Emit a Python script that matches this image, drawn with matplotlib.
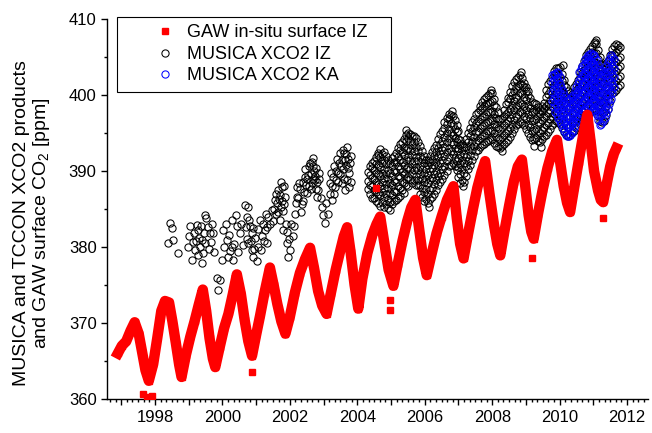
import matplotlib
matplotlib.use("Agg")
import matplotlib.pyplot as plt
from matplotlib.ticker import MultipleLocator, FuncFormatter

plt.rcParams['font.family'] = ['Liberation Sans', 'DejaVu Sans']
plt.rcParams['mathtext.fontset'] = 'custom'
plt.rcParams['mathtext.rm'] = 'Liberation Sans'
plt.rcParams['mathtext.default'] = 'regular'

# GAW in-situ surface IZ
gaw_year = [1996.90, 1997.02, 1997.15, 1997.28, 1997.40, 1997.52, 1997.62, 1997.72, 1997.82,
            1997.95, 1998.07, 1998.19, 1998.30, 1998.42, 1998.52, 1998.62, 1998.72, 1998.79,
            1998.92, 1999.05, 1999.18, 1999.30, 1999.42, 1999.52, 1999.62, 1999.72, 1999.79,
            1999.92, 2000.05, 2000.18, 2000.31, 2000.43, 2000.55, 2000.66, 2000.77, 2000.88,
            2001.00, 2001.12, 2001.25, 2001.41, 2001.52, 2001.63, 2001.75, 2001.87,
            2002.00, 2002.15, 2002.30, 2002.45, 2002.60, 2002.72, 2002.84, 2002.96, 2003.09,
            2003.22, 2003.36, 2003.50, 2003.60, 2003.70, 2003.80, 2003.92, 2004.03,
            2004.15, 2004.30, 2004.45, 2004.57, 2004.68, 2004.80, 2004.93, 2005.07,
            2005.20, 2005.34, 2005.48, 2005.60, 2005.72, 2005.84, 2005.95, 2006.06,
            2006.20, 2006.35, 2006.50, 2006.66, 2006.85, 2006.95, 2007.05, 2007.15,
            2007.28, 2007.42, 2007.56, 2007.68, 2007.79, 2007.92, 2008.05, 2008.15, 2008.24,
            2008.36, 2008.50, 2008.64, 2008.76, 2008.88, 2008.98, 2009.08, 2009.16, 2009.23,
            2009.36, 2009.50, 2009.64, 2009.78, 2009.92, 2010.02, 2010.12, 2010.22, 2010.31,
            2010.43, 2010.56, 2010.70, 2010.82, 2010.92, 2011.02, 2011.14, 2011.22, 2011.29,
            2011.40, 2011.50, 2011.60, 2011.68]
gaw_co2 = [366.0, 367.0, 367.6, 369.0, 370.1, 368.6, 366.2, 363.8, 362.4,
           364.6, 368.0, 371.6, 372.9, 372.7, 370.2, 367.4, 364.5, 362.9,
           365.8, 368.2, 370.3, 372.4, 374.4, 371.6, 368.0, 365.3, 364.2,
           366.8, 369.3, 371.2, 373.8, 376.4, 373.8, 370.4, 367.6, 365.7,
           368.4, 371.0, 374.0, 377.3, 375.0, 372.5, 370.2, 368.6,
           370.8, 374.0, 376.6, 378.4, 379.9, 377.2, 374.2, 372.3, 371.2,
           374.0, 377.0, 379.6, 381.4, 382.6, 379.4, 375.0, 371.9,
           375.8, 379.2, 381.6, 383.0, 384.0, 380.6, 377.0, 374.9,
           377.8, 380.8, 383.4, 385.2, 386.2, 382.2, 378.6, 376.3,
           379.0, 381.8, 384.0, 386.2, 388.0, 383.8, 380.4, 378.5,
           381.6, 384.8, 387.8, 389.8, 391.3, 387.0, 383.0, 380.4, 378.9,
           382.0, 385.4, 388.6, 390.6, 391.5, 388.0, 384.2, 382.0, 381.1,
           384.4, 387.6, 390.4, 392.6, 394.1, 391.0, 388.0, 385.8, 384.6,
           387.8, 391.2, 394.8, 397.4, 393.8, 390.0, 387.4, 386.2, 385.9,
           388.4, 390.6, 392.2, 393.0]
gaw_out_year = [1997.64, 1997.76, 1997.90, 2000.88, 2004.56, 2004.97, 2004.97, 2009.17, 2011.29]
gaw_out_co2 = [360.7, 360.3, 360.4, 363.5, 387.8, 373.0, 371.7, 378.5, 383.8]

# MUSICA XCO2 IZ, sparse early years and scattered points
iz_pt_year = [1998.39, 1998.45, 1998.50, 1998.54, 1998.69, 1998.99, 1999.00, 1999.05, 1999.09, 1999.12,
              1999.15, 1999.19, 1999.22, 1999.24, 1999.27, 1999.28, 1999.30, 1999.34, 1999.36, 1999.39,
              1999.40, 1999.43, 1999.45, 1999.48, 1999.50, 1999.53, 1999.57, 1999.60, 1999.63, 1999.66,
              1999.70, 1999.73, 1999.76, 1999.83, 1999.88, 1999.93, 1999.98, 2000.03, 2000.06, 2000.10,
              2000.13, 2000.18, 2000.20, 2000.24, 2000.28, 2000.28, 2000.32, 2000.36, 2000.40, 2000.42,
              2000.46, 2000.52, 2000.55, 2000.60, 2000.67, 2000.70, 2000.72, 2000.74, 2000.77, 2000.77,
              2000.80, 2000.82, 2000.84, 2000.87, 2000.87, 2000.90, 2000.92, 2000.95, 2000.98, 2001.02,
              2001.05, 2001.07, 2001.12, 2001.15, 2001.17, 2001.20, 2001.23, 2001.26, 2001.28, 2001.31,
              2001.33, 2001.36, 2001.40, 2001.46, 2001.50, 2001.53, 2001.56, 2001.60, 2001.63, 2001.66,
              2001.68, 2001.71, 2001.73, 2001.76, 2001.80, 2001.81, 2001.84, 2001.86, 2001.88, 2001.91,
              2001.93, 2001.96, 2001.98, 2002.01, 2002.05, 2002.10, 2002.13, 2002.15, 2002.18, 2002.20,
              2002.25, 2002.28, 2002.32, 2002.35, 2002.40, 2002.44, 2002.48, 2002.50, 2002.55, 2002.58,
              2002.62, 2002.65, 2002.66, 2002.69, 2002.72, 2002.75, 2002.78, 2002.80, 2002.85, 2002.88,
              2002.91, 2002.95, 2002.98, 2003.04, 2003.08, 2003.14, 2003.18, 2003.20, 2003.24, 2003.28,
              2003.30, 2003.34, 2003.38, 2003.42, 2003.46, 2003.50, 2003.54, 2003.55, 2003.58, 2003.62,
              2003.64, 2003.66, 2003.70, 2003.73, 2003.74, 2003.76, 2003.80, 2003.82,
              2001.70, 2001.74, 2001.78, 2001.83, 2001.66, 2001.58,
              2002.22, 2002.30, 2002.38, 2002.42, 2002.46, 2002.52, 2002.56, 2002.60, 2002.63, 2002.68,
              2002.70, 2002.74, 2002.77, 2002.82, 2002.86,
              2003.22, 2003.26, 2003.32, 2003.36, 2003.40, 2003.44, 2003.48, 2003.52, 2003.57, 2003.60,
              2003.64, 2003.68, 2003.72, 2003.78, 2003.69,
              2004.97, 2006.12, 2007.12, 2008.28, 2009.25, 2009.45, 2005.45, 2006.80, 2007.95, 2008.85,
              2004.60, 2010.10, 2011.05]
iz_pt_co2 = [380.5, 383.1, 382.5, 380.9, 379.2, 380.0, 381.5, 382.8, 378.3, 380.6,
             381.9, 379.6, 380.8, 382.9, 379.0, 382.2, 381.2, 380.0, 382.8, 377.9,
             380.9, 379.2, 381.8, 384.2, 380.5, 383.8, 382.6, 379.8, 381.8, 380.7,
             383.0, 381.8, 379.3, 375.9, 374.3, 375.7, 378.3, 382.2, 380.0, 383.0,
             380.9, 378.7, 381.6, 379.5, 383.6, 380.0, 378.3, 380.4, 384.2, 382.7,
             379.4, 381.8, 383.0, 380.2, 385.5, 382.6, 384.0, 381.0, 385.3, 380.5,
             383.6, 382.7, 380.8, 381.8, 379.6, 382.5, 378.7, 379.8, 381.2, 378.1,
             382.4, 380.0, 383.6, 379.6, 381.4, 383.0, 380.8, 382.2, 384.4, 380.5,
             382.6, 384.0, 383.0, 384.9, 383.4, 385.0, 386.2, 384.4, 385.8, 387.5,
             386.3, 383.6, 385.2, 387.9, 384.7, 382.2, 388.0, 386.6, 383.0, 380.5,
             382.0, 378.7, 381.0, 379.6, 383.0, 381.4, 382.8, 384.4, 385.8, 387.9,
             386.5, 388.4, 384.6, 385.7, 386.0, 389.2, 388.2, 387.1, 389.5, 390.6,
             387.6, 388.4, 391.2, 391.7, 390.0, 388.8, 390.4, 386.6, 387.5, 388.9,
             386.4, 385.3, 384.2, 383.1, 385.8, 384.4, 387.0, 388.4, 386.2, 389.2,
             387.0, 387.9, 390.0, 388.6, 391.0, 389.6, 388.4, 391.4, 390.2, 392.4,
             387.5, 390.8, 393.2, 391.6, 387.9, 389.8, 392.0, 388.6,
             386.9, 388.6, 386.0, 385.6, 384.6, 387.0,
             386.6, 387.6, 388.6, 387.3, 390.3, 389.0, 388.0, 391.0, 389.6, 388.9,
             390.6, 389.4, 387.6, 388.6, 389.8,
             389.8, 388.0, 390.6, 388.8, 391.6, 389.8, 392.4, 390.6, 392.8, 389.0,
             391.4, 392.2, 390.4, 391.0, 388.8,
             384.9, 385.2, 388.0, 392.6, 393.3, 393.2, 395.4, 397.9, 400.6, 403.0,
             392.4, 403.9, 407.0]

# MUSICA XCO2 IZ, dense period: spread of values at each epoch
iz_year = [2004.32, 2004.44, 2004.56, 2004.68, 2004.79, 2004.91, 2005.03, 2005.15, 2005.27, 2005.39,
           2005.51, 2005.63, 2005.74, 2005.86, 2005.98, 2006.10, 2006.22, 2006.34, 2006.46, 2006.58,
           2006.72, 2006.84, 2006.96, 2007.05, 2007.17, 2007.29, 2007.41, 2007.53, 2007.64, 2007.76,
           2007.88, 2008.00, 2008.12, 2008.24, 2008.36, 2008.47, 2008.59, 2008.71, 2008.83, 2008.95,
           2009.07, 2009.19, 2009.31, 2009.42, 2009.54, 2009.66, 2009.78, 2009.90, 2010.02, 2010.14,
           2010.25, 2010.37, 2010.49, 2010.61, 2010.73, 2010.85, 2010.97, 2011.09, 2011.20, 2011.32,
           2011.44, 2011.56, 2011.68, 2011.80]
iz_co2 = [[387.6, 388.7, 389.9],
          [386.5, 388.0, 389.1, 390.4, 391.1],
          [386.1, 387.2, 388.6, 389.8, 390.9, 391.8],
          [385.4, 386.9, 388.0, 389.4, 390.5, 391.9, 392.9],
          [385.3, 386.6, 387.8, 389.1, 390.3, 391.5, 392.5],
          [385.1, 386.3, 387.7, 388.9, 390.1, 391.4],
          [385.6, 386.8, 388.2, 389.3, 390.6, 391.7],
          [386.2, 387.3, 388.6, 389.9, 391.2, 392.4],
          [386.7, 387.8, 389.2, 390.3, 391.5, 392.8, 393.5],
          [387.1, 388.4, 389.6, 390.8, 392.1, 393.2, 394.2],
          [388.0, 389.2, 390.5, 391.9, 393.0, 394.3, 395.0],
          [388.4, 389.6, 390.9, 392.1, 393.4, 394.6],
          [388.1, 389.4, 390.5, 391.8, 393.1, 394.4],
          [387.0, 388.2, 389.6, 390.7, 392.0, 393.3],
          [386.0, 387.3, 388.6, 389.8, 391.1, 392.0],
          [385.8, 387.0, 388.4, 389.5, 390.8, 391.5],
          [386.6, 387.8, 389.1, 390.4, 391.5, 392.5],
          [387.5, 388.8, 390.0, 391.2, 392.5, 393.4],
          [388.6, 389.7, 391.0, 392.3, 393.6, 394.9],
          [389.5, 390.7, 392.0, 393.2, 394.5, 395.7, 396.5],
          [390.6, 391.9, 393.0, 394.3, 395.5, 396.8, 397.5],
          [391.0, 392.2, 393.5, 394.7, 396.0, 397.2],
          [390.1, 391.3, 392.6, 393.8, 395.1, 396.0],
          [388.4, 389.6, 390.9, 392.1, 393.4, 394.1],
          [388.6, 389.8, 391.1, 392.2, 393.1],
          [390.2, 391.3, 392.7, 393.8, 395.0],
          [391.5, 392.7, 394.0, 395.2, 396.4],
          [392.6, 393.8, 395.1, 396.3, 397.5],
          [393.1, 394.3, 395.6, 396.8, 398.0, 398.6],
          [393.6, 394.8, 396.1, 397.3, 398.6, 399.5],
          [394.0, 395.2, 396.5, 397.7, 399.0, 400.0],
          [394.2, 395.4, 396.7, 397.9, 399.2, 400.3],
          [393.3, 394.5, 395.8, 397.0, 398.4],
          [393.0, 394.2, 395.5, 396.8],
          [393.6, 394.7, 396.1, 397.2, 398.0],
          [394.1, 395.3, 396.6, 397.8, 399.1, 399.6],
          [395.0, 396.2, 397.5, 398.7, 400.0, 401.2],
          [396.0, 397.2, 398.5, 399.7, 401.0, 402.1],
          [396.5, 397.7, 399.0, 400.2, 401.5, 402.6],
          [396.1, 397.3, 398.6, 399.8, 401.1, 401.6],
          [395.0, 396.2, 397.5, 398.7, 400.0, 400.5],
          [394.1, 395.3, 396.6, 397.8, 399.1],
          [394.3, 395.5, 396.8, 398.0, 398.8],
          [393.8, 395.0, 396.3, 397.5, 398.0],
          [394.6, 395.8, 397.1, 398.3, 399.0],
          [395.1, 396.3, 397.6, 398.8, 400.1, 401.4],
          [396.0, 397.2, 398.5, 399.7, 401.0, 402.3],
          [396.6, 397.8, 399.1, 400.3, 401.6, 402.8, 403.5],
          [396.2, 397.4, 398.7, 399.9, 401.2, 402.4, 403.7],
          [395.1, 396.3, 397.6, 398.8, 400.1, 401.3, 402.0],
          [394.6, 395.8, 397.1, 398.3, 399.6, 400.5],
          [395.1, 396.3, 397.6, 398.8, 400.1],
          [395.6, 396.8, 398.1, 399.3, 400.6, 401.5],
          [396.2, 397.4, 398.7, 399.9, 401.2, 402.4, 403.0],
          [397.1, 398.3, 399.6, 400.8, 402.1, 403.3, 404.5],
          [397.6, 398.8, 400.1, 401.3, 402.6, 403.8, 405.1, 405.6],
          [398.1, 399.3, 400.6, 401.8, 403.1, 404.3, 405.6, 406.4],
          [398.0, 399.2, 400.5, 401.7, 403.0, 404.2, 405.5, 406.7, 407.2],
          [396.6, 397.8, 399.1, 400.3, 401.6, 402.8, 404.1, 405.0],
          [396.6, 397.8, 399.1, 400.3, 401.6, 402.8, 403.9],
          [398.2, 399.4, 400.7, 401.9, 403.2, 404.5],
          [400.2, 401.4, 402.7, 403.9, 405.2, 406.0],
          [400.6, 401.8, 403.1, 404.3, 405.6, 406.7],
          [401.3, 402.5, 403.8, 405.0, 406.3]]

# MUSICA XCO2 IZ, dense period: epochs in between
iz_year_mid = [2004.38, 2004.50, 2004.62, 2004.74, 2004.85, 2004.97, 2005.09, 2005.21, 2005.33, 2005.45,
               2005.57, 2005.69, 2005.80, 2005.92, 2006.04, 2006.16, 2006.28, 2006.40, 2006.52, 2006.65,
               2006.78, 2006.90, 2007.00, 2007.11, 2007.23, 2007.35, 2007.47, 2007.58, 2007.70, 2007.82,
               2007.94, 2008.06, 2008.18, 2008.30, 2008.42, 2008.53, 2008.65, 2008.77, 2008.89, 2009.01,
               2009.13, 2009.25, 2009.37, 2009.48, 2009.60, 2009.72, 2009.84, 2009.96, 2010.08, 2010.20,
               2010.31, 2010.43, 2010.55, 2010.67, 2010.79, 2010.91, 2011.03, 2011.14, 2011.26, 2011.38,
               2011.50, 2011.62, 2011.74]
iz_co2_mid = [[387.0, 388.2, 389.5, 390.6],
              [386.4, 387.5, 388.9, 390.1, 391.3],
              [385.8, 387.0, 388.3, 389.6, 390.8, 392.1],
              [385.9, 387.2, 388.5, 389.8, 391.0, 392.2],
              [385.7, 387.0, 388.3, 389.6, 390.9, 392.0],
              [385.9, 387.1, 388.4, 389.7, 391.0],
              [386.0, 387.4, 388.7, 390.0, 391.2, 392.0],
              [386.5, 388.0, 389.3, 390.6, 391.9, 393.0],
              [387.5, 388.6, 389.9, 391.2, 392.5, 393.8],
              [388.2, 389.0, 390.2, 391.5, 392.7, 394.0, 394.8],
              [389.0, 390.3, 391.5, 392.8, 394.0, 394.9],
              [388.8, 390.1, 391.3, 392.6, 393.8, 394.6],
              [388.2, 388.8, 390.1, 391.3, 392.6, 393.8],
              [386.6, 387.8, 389.1, 390.3, 391.6, 392.6],
              [386.3, 387.6, 388.9, 390.2, 391.4],
              [386.3, 387.5, 388.8, 390.0, 391.2, 392.0],
              [387.0, 388.3, 389.6, 390.8, 392.0, 393.0],
              [388.2, 389.4, 390.6, 391.8, 393.0, 394.2],
              [389.0, 390.3, 391.5, 392.8, 394.0, 395.3],
              [390.0, 391.3, 392.5, 393.8, 395.0, 396.2, 397.0],
              [390.8, 392.6, 393.8, 395.0, 396.3, 397.4],
              [390.6, 391.7, 393.0, 394.3, 395.5, 396.7],
              [389.2, 390.5, 391.7, 393.0, 394.2, 395.2],
              [388.8, 390.2, 391.5, 392.7, 393.6],
              [389.4, 390.6, 391.9, 393.1, 394.2],
              [390.8, 392.1, 393.3, 394.6, 395.7],
              [392.0, 393.3, 394.5, 395.8, 396.9],
              [392.8, 394.1, 395.3, 396.6, 397.8],
              [393.4, 394.6, 395.9, 397.1, 398.3, 399.1],
              [393.8, 395.0, 396.3, 397.5, 398.8, 399.8],
              [394.1, 395.3, 396.6, 397.8, 399.1, 400.2],
              [393.7, 395.0, 396.2, 397.5, 398.7, 399.5],
              [393.1, 394.4, 395.6, 396.9, 397.8],
              [393.3, 394.5, 395.8, 397.0],
              [393.8, 395.0, 396.3, 397.5, 398.8],
              [394.5, 395.7, 397.0, 398.2, 399.5, 400.4],
              [395.5, 396.7, 398.0, 399.2, 400.5, 401.7],
              [396.2, 397.5, 398.7, 400.0, 401.2, 402.4],
              [396.3, 397.6, 398.8, 400.1, 401.3, 402.3],
              [395.5, 396.8, 398.0, 399.3, 400.5, 401.0],
              [394.5, 395.8, 397.0, 398.3, 399.6],
              [394.2, 395.4, 396.7, 397.9, 398.9],
              [394.0, 395.3, 396.5, 397.8, 398.4],
              [394.2, 395.4, 396.7, 397.9, 398.6],
              [394.8, 396.0, 397.3, 398.5, 399.8, 400.7],
              [395.5, 396.8, 398.0, 399.3, 400.5, 401.8],
              [396.3, 397.5, 398.8, 400.0, 401.3, 402.6, 403.2],
              [396.4, 397.6, 398.9, 400.1, 401.4, 402.6, 403.6],
              [395.6, 396.9, 398.1, 399.4, 400.6, 401.9, 402.8],
              [394.8, 396.0, 397.3, 398.5, 399.8, 401.0],
              [394.8, 396.0, 397.3, 398.5, 399.8, 400.3],
              [395.3, 396.6, 397.8, 399.1, 400.3, 401.0],
              [395.9, 397.1, 398.4, 399.6, 400.9, 402.0],
              [396.6, 397.9, 399.1, 400.4, 401.6, 402.9, 403.8],
              [397.3, 398.6, 399.8, 401.1, 402.3, 403.6, 404.8, 405.2],
              [397.8, 399.1, 400.3, 401.6, 402.8, 404.1, 405.3, 406.0],
              [398.0, 399.3, 400.5, 401.8, 403.0, 404.3, 405.5, 406.8],
              [397.2, 398.5, 399.7, 401.0, 402.2, 403.5, 404.7, 405.9],
              [396.4, 397.7, 398.9, 400.2, 401.4, 402.7, 403.6],
              [397.4, 398.6, 399.9, 401.1, 402.4, 403.6, 404.2],
              [399.2, 400.4, 401.7, 402.9, 404.2, 405.3],
              [400.4, 401.6, 402.9, 404.1, 405.4, 406.4],
              [401.0, 402.2, 403.5, 404.7, 406.0, 406.6]]

# MUSICA XCO2 KA
ka_year = [2009.78, 2009.82, 2009.87, 2009.91, 2009.96, 2010.00, 2010.05, 2010.09, 2010.14, 2010.18,
           2010.23, 2010.27, 2010.31, 2010.36, 2010.40, 2010.45, 2010.49, 2010.53, 2010.58, 2010.62,
           2010.67, 2010.71, 2010.76, 2010.80, 2010.85, 2010.89, 2010.94, 2010.98, 2011.02, 2011.06,
           2011.11, 2011.15, 2011.20, 2011.24, 2011.29, 2011.33, 2011.38, 2011.42, 2011.47, 2011.51,
           2011.56, 2011.62]
ka_co2 = [[399.2, 400.4, 401.6, 402.6],
          [398.4, 399.6, 400.8, 402.0, 402.8],
          [397.8, 399.0, 400.2, 401.4, 402.8],
          [397.4, 398.6, 399.8, 401.0, 402.2, 403.0],
          [397.0, 398.2, 399.4, 400.6, 401.9, 402.9],
          [396.6, 397.8, 399.0, 400.2, 401.4, 402.4],
          [396.2, 397.4, 398.6, 399.8, 401.0],
          [395.7, 396.9, 398.1, 399.3, 400.5],
          [395.3, 396.4, 397.6, 398.8, 400.0],
          [394.9, 396.1, 397.3, 398.5, 399.6],
          [394.6, 395.8, 397.0, 398.2, 399.2],
          [394.6, 395.8, 397.0, 398.2, 399.4],
          [394.8, 396.0, 397.2, 398.4, 399.6],
          [395.0, 396.2, 397.4, 398.6, 399.8],
          [395.4, 396.6, 397.8, 399.0, 400.0],
          [395.9, 397.1, 398.3, 399.5, 400.5],
          [396.5, 397.7, 398.9, 400.1, 401.0],
          [396.8, 398.0, 399.2, 400.4, 401.6],
          [397.2, 398.4, 399.6, 400.8, 402.0, 403.0],
          [397.5, 398.7, 399.9, 401.1, 402.3, 403.4],
          [397.8, 399.0, 400.2, 401.4, 402.6, 403.8],
          [398.0, 399.2, 400.4, 401.6, 402.8, 404.0],
          [398.2, 399.4, 400.6, 401.8, 403.0, 404.2, 404.8],
          [398.4, 399.6, 400.8, 402.0, 403.2, 404.4, 405.0],
          [398.6, 399.8, 401.0, 402.2, 403.4, 404.6, 405.3],
          [398.5, 399.7, 400.9, 402.1, 403.3, 404.5, 405.4],
          [398.4, 399.6, 400.8, 402.0, 403.2, 404.4, 405.5],
          [398.2, 399.4, 400.6, 401.8, 403.0, 404.2, 405.3],
          [398.0, 399.2, 400.4, 401.6, 402.8, 404.0, 405.2],
          [397.7, 398.9, 400.1, 401.3, 402.5, 403.7, 404.9],
          [397.4, 398.6, 399.8, 401.0, 402.2, 403.4, 404.6],
          [396.7, 397.9, 399.1, 400.3, 401.5, 402.7, 404.0],
          [396.0, 397.2, 398.4, 399.6, 400.8, 402.0, 403.4],
          [396.2, 397.4, 398.6, 399.8, 401.0, 402.2, 403.2],
          [396.6, 397.8, 399.0, 400.2, 401.4, 402.8],
          [397.0, 398.2, 399.4, 400.6, 401.8, 403.2],
          [397.6, 398.8, 400.0, 401.2, 402.6, 403.8],
          [398.2, 399.4, 400.6, 401.8, 403.0, 404.3],
          [398.8, 400.0, 401.2, 402.4, 403.6, 404.8],
          [399.5, 400.7, 401.9, 403.1, 404.3, 405.2],
          [400.2, 401.4, 402.6, 403.8, 405.0],
          [401.0, 402.4, 403.6, 404.8]]

# flatten the epoch lists
iz_x = (iz_pt_year
        + [y for y, vals in zip(iz_year, iz_co2) for v in vals]
        + [y for y, vals in zip(iz_year_mid, iz_co2_mid) for v in vals])
iz_y = (iz_pt_co2
        + [v for vals in iz_co2 for v in vals]
        + [v for vals in iz_co2_mid for v in vals])
ka_x = [y for y, vals in zip(ka_year, ka_co2) for v in vals]
ka_y = [v for vals in ka_co2 for v in vals]

fig = plt.figure(figsize=(6.52, 4.33), dpi=100)
ax = fig.add_axes([0.1641, 0.0785, 0.8298, 0.8776])

ax.plot(iz_x, iz_y, 'o', ms=5.2, mfc='none', mec='black', mew=0.75, zorder=2,
        label='MUSICA XCO2 IZ')
ax.plot(ka_x, ka_y, 'o', ms=5.2, mfc='none', mec='#0000ff', mew=0.75, zorder=3,
        label='MUSICA XCO2 KA')
ax.plot(gaw_year, gaw_co2, '-', color='red', lw=7.5, zorder=4, label='_nolegend_')
ax.plot(gaw_year, gaw_co2, 's', color='red', ms=5, zorder=5,
        label='GAW in-situ surface IZ')
ax.plot(gaw_out_year, gaw_out_co2, 's', color='red', ms=5, zorder=5)

ax.set_xlim(1996.58, 2012.62)
ax.set_ylim(360, 410)

for side in ['top', 'right']:
    ax.spines[side].set_visible(False)
for side in ['left', 'bottom']:
    ax.spines[side].set_linewidth(1.0)

ax.xaxis.set_major_locator(MultipleLocator(1))
ax.xaxis.set_minor_locator(MultipleLocator(1 / 6))
ax.xaxis.set_major_formatter(FuncFormatter(
    lambda v, p: str(int(round(v))) if int(round(v)) % 2 == 0 else ''))
ax.yaxis.set_major_locator(MultipleLocator(10))
ax.yaxis.set_minor_locator(MultipleLocator(5))
ax.tick_params(which='major', direction='out', length=4.5, width=1, labelsize=12)
ax.tick_params(which='minor', direction='out', length=2.2, width=1)
ax.tick_params(axis='y', pad=3)

ax.text(-0.138, 0.462, 'MUSICA and TCCON XCO2 products\nand GAW surface CO$_2$ [ppm]',
        rotation=90, ha='center', va='center', multialignment='center',
        fontsize=14, linespacing=1.05, transform=ax.transAxes)

handles, labels = ax.get_legend_handles_labels()
order = [labels.index('GAW in-situ surface IZ'), labels.index('MUSICA XCO2 IZ'),
         labels.index('MUSICA XCO2 KA')]
leg = ax.legend([handles[i] for i in order], [labels[i] for i in order],
                loc='upper left', bbox_to_anchor=(0.0185, 1.005, 0.5065, 0.0),
                mode='expand', borderaxespad=0, fontsize=13, frameon=True,
                fancybox=False, edgecolor='black', framealpha=1,
                handlelength=4.5, handletextpad=-1.0, borderpad=0.4,
                labelspacing=0.25)
leg.get_frame().set_linewidth(0.8)

fig.savefig('out.png', dpi=100)
